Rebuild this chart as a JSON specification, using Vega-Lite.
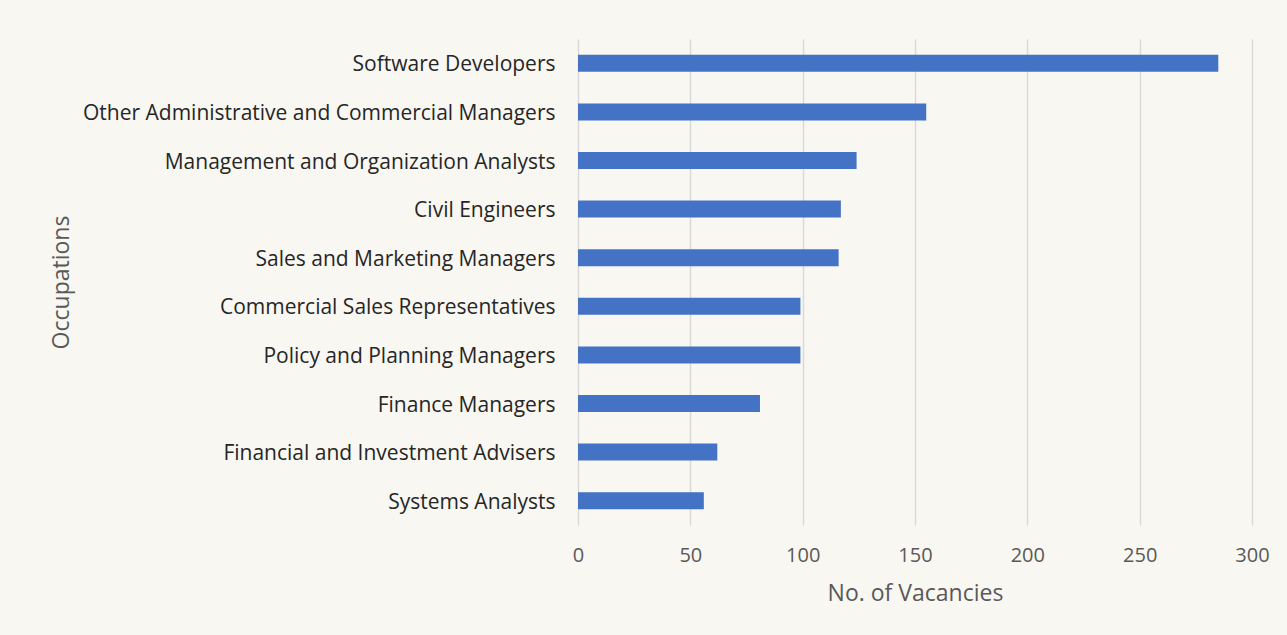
{
  "$schema": "https://vega.github.io/schema/vega-lite/v6.json",
  "autosize": {"type": "none"},
  "width": 674,
  "height": 486,
  "padding": {"left": 578, "top": 39, "right": 35, "bottom": 110},
  "background": "#F9F7F2",
  "data": {
    "values": [
      {"occupation": "Software Developers", "vacancies": 285},
      {"occupation": "Other Administrative and Commercial Managers", "vacancies": 155},
      {"occupation": "Management and Organization Analysts", "vacancies": 124},
      {"occupation": "Civil Engineers", "vacancies": 117},
      {"occupation": "Sales and Marketing Managers", "vacancies": 116},
      {"occupation": "Commercial Sales Representatives", "vacancies": 99},
      {"occupation": "Policy and Planning Managers", "vacancies": 99},
      {"occupation": "Finance Managers", "vacancies": 81},
      {"occupation": "Financial and Investment Advisers", "vacancies": 62},
      {"occupation": "Systems Analysts", "vacancies": 56}
    ]
  },
  "mark": {"type": "bar", "color": "#4472C4"},
  "encoding": {
    "y": {
      "field": "occupation",
      "type": "nominal",
      "sort": null,
      "scale": {"paddingInner": 0.65, "paddingOuter": 0.325},
      "axis": {
        "title": "Occupations",
        "domain": false,
        "ticks": false,
        "labelPadding": 23,
        "labelOffset": 2,
        "labelFont": "Open Sans",
        "labelFontSize": 21,
        "labelColor": "#262626",
        "labelLimit": 600,
        "titleFont": "Open Sans",
        "titleFontSize": 23,
        "titleFontWeight": "normal",
        "titleColor": "#595959",
        "titleX": -505,
        "titleY": 243
      }
    },
    "x": {
      "field": "vacancies",
      "type": "quantitative",
      "scale": {"domain": [0, 300]},
      "axis": {
        "title": "No. of Vacancies",
        "values": [0, 50, 100, 150, 200, 250, 300],
        "domain": false,
        "ticks": false,
        "grid": true,
        "gridColor": "#D9D9D9",
        "gridWidth": 1.5,
        "labelFlush": false,
        "labelPadding": 20,
        "labelFont": "Open Sans",
        "labelFontSize": 20,
        "labelColor": "#595959",
        "titleFont": "Open Sans",
        "titleFontSize": 23,
        "titleFontWeight": "normal",
        "titleColor": "#595959",
        "titlePadding": 17
      }
    }
  },
  "config": {"view": {"stroke": null}}
}
